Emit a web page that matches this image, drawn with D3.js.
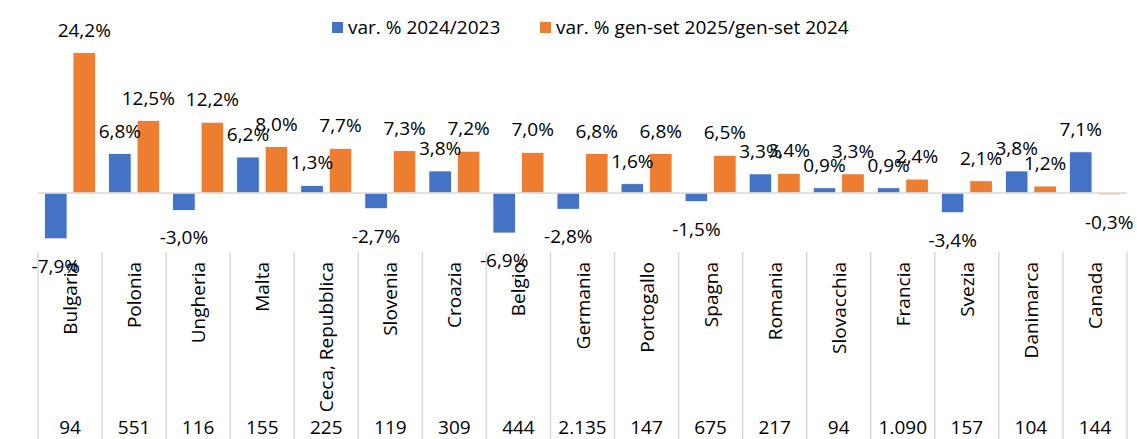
<!DOCTYPE html>
<html>
<head>
<meta charset="utf-8">
<script src="https://cdn.jsdelivr.net/npm/d3@7"></script>
<style>
  body { margin: 0; background: #fff; }
  svg text { font-family: "Open Sans", sans-serif; fill: #000; }
</style>
</head>
<body>
<svg id="chart" width="1137" height="439"></svg>
<script>
var countries = ["Bulgaria", "Polonia", "Ungheria", "Malta", "Ceca, Repubblica", "Slovenia", "Croazia", "Belgio", "Germania", "Portogallo", "Spagna", "Romania", "Slovacchia", "Francia", "Svezia", "Danimarca", "Canada"];
var var2024 = [-7.9, 6.8, -3.0, 6.2, 1.3, -2.7, 3.8, -6.9, -2.8, 1.6, -1.5, 3.3, 0.9, 0.9, -3.4, 3.8, 7.1];
var varGenSet2025 = [24.2, 12.5, 12.2, 8.0, 7.7, 7.3, 7.2, 7.0, 6.8, 6.8, 6.5, 3.4, 3.3, 2.4, 2.1, 1.2, -0.3];
var rowValues = ["94", "551", "116", "155", "225", "119", "309", "444", "2.135", "147", "675", "217", "94", "1.090", "157", "104", "144"];
var seriesNames = ["var. % 2024/2023", "var. % gen-set 2025/gen-set 2024"];
var colors = ["#4472C4", "#ED7D31"];

var svg = d3.select("#chart");

var x = d3.scaleBand()
    .domain(countries)
    .range([38, 1127]);

var xs = d3.scaleBand()
    .domain([0, 1])
    .range([0, x.bandwidth()])
    .paddingInner(0.21)
    .paddingOuter(0.23);

var y = d3.scaleLinear()
    .domain([-10, 25])
    .range([251, 48]);

var fmt = function (v) {
    return v.toFixed(1).replace(".", ",") + "%";
};

// category separators (table grid)
var edges = countries.map(function (c) { return x(c); }).concat([x.range()[1]]);
svg.append("g")
    .selectAll("line")
    .data(edges)
    .join("line")
    .attr("x1", function (d) { return d; })
    .attr("x2", function (d) { return d; })
    .attr("y1", 252)
    .attr("y2", 439)
    .attr("stroke", "#d9d9d9")
    .attr("stroke-width", 1.5);

// bars
var series = [var2024, varGenSet2025];
series.forEach(function (vals, si) {
    var g = svg.append("g");
    g.selectAll("rect")
        .data(vals)
        .join("rect")
        .attr("x", function (d, i) { return x(countries[i]) + xs(si); })
        .attr("width", xs.bandwidth())
        .attr("y", function (d) { return y(Math.max(0, d)); })
        .attr("height", function (d) { return Math.abs(y(d) - y(0)); })
        .attr("fill", colors[si])
        .attr("stroke", "#fff")
        .attr("stroke-width", 0.8);
});

// zero line
svg.append("line")
    .attr("x1", x.range()[0])
    .attr("x2", x.range()[1])
    .attr("y1", y(0))
    .attr("y2", y(0))
    .attr("stroke", "#d9d9d9")
    .attr("stroke-width", 1.5);

// data labels
series.forEach(function (vals, si) {
    svg.append("g")
        .selectAll("text")
        .data(vals)
        .join("text")
        .attr("x", function (d, i) { return x(countries[i]) + xs(si) + xs.bandwidth() / 2; })
        .attr("y", function (d) { return d >= 0 ? y(d) - 16 : y(d) + 34; })
        .attr("text-anchor", "middle")
        .style("font-size", "19px")
        .text(fmt);
});

// category labels, rotated
svg.append("g")
    .selectAll("text")
    .data(countries)
    .join("text")
    .attr("transform", function (d) {
        return "translate(" + (x(d) + x.bandwidth() / 2 + 7) + ",262) rotate(-90)";
    })
    .attr("text-anchor", "end")
    .style("font-size", "19px")
    .text(function (d) { return d; });

// table row
svg.append("g")
    .selectAll("text")
    .data(rowValues)
    .join("text")
    .attr("x", function (d, i) { return x(countries[i]) + x.bandwidth() / 2; })
    .attr("y", 434)
    .attr("text-anchor", "middle")
    .style("font-size", "19px")
    .text(function (d) { return d; });

// legend
var legendX = [332, 540];
seriesNames.forEach(function (name, i) {
    svg.append("rect")
        .attr("x", legendX[i])
        .attr("y", 22)
        .attr("width", 11)
        .attr("height", 11)
        .attr("fill", colors[i]);
    svg.append("text")
        .attr("x", legendX[i] + 16)
        .attr("y", 34)
        .style("font-size", "19px")
        .text(name);
});
</script>
</body>
</html>
